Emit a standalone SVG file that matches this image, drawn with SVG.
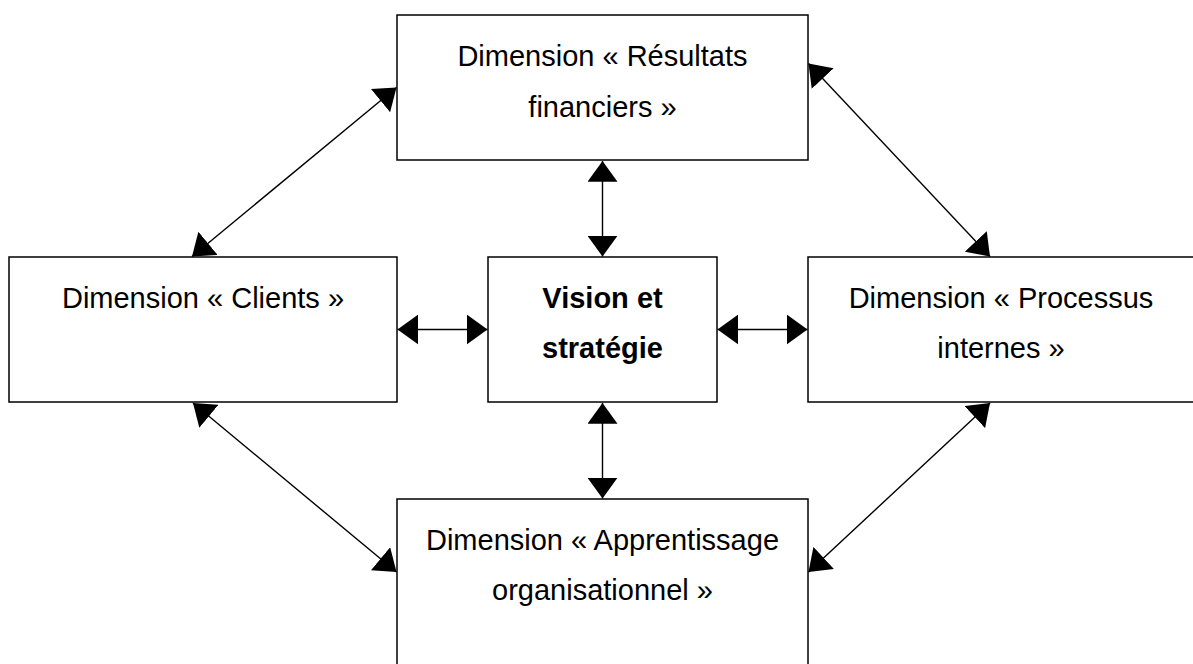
<svg xmlns="http://www.w3.org/2000/svg" width="1193" height="664" viewBox="0 0 1193 664">
<style>
.box{fill:#fff;stroke:#000;stroke-width:1.5}
.t{font-family:"Liberation Sans",Arial,sans-serif;font-size:29px;fill:#000;text-anchor:middle}
.b{font-weight:bold}
.c{stroke:#000;stroke-width:1.4;fill:none;marker-start:url(#ah);marker-end:url(#ah)}
</style>
<defs>
<marker id="ah" markerUnits="userSpaceOnUse" markerWidth="21" markerHeight="30" viewBox="0 0 20 29" refX="20" refY="14.5" orient="auto-start-reverse">
<path d="M0,0 L20,14.5 L0,29 Z" fill="#000"/>
</marker>
</defs>
<rect width="1193" height="664" fill="#fff"/>
<g id="n-financiers">
<rect class="box" x="397" y="15" width="411" height="145"/>
<text class="t" x="602.5" y="66">Dimension « Résultats</text>
<text class="t" x="602.5" y="117">financiers »</text>
</g>
<g id="n-clients">
<rect class="box" x="9" y="257" width="388" height="145"/>
<text class="t" x="203" y="308">Dimension « Clients »</text>
</g>
<g id="n-vision">
<rect class="box" x="488" y="257" width="229" height="145"/>
<text class="t b" x="602.5" y="308">Vision et</text>
<text class="t b" x="602.5" y="358">stratégie</text>
</g>
<g id="n-processus">
<rect class="box" x="808" y="257" width="390" height="145"/>
<text class="t" x="1001" y="308">Dimension « Processus</text>
<text class="t" x="1001" y="358">internes »</text>
</g>
<g id="n-apprentissage">
<rect class="box" x="397" y="499" width="411" height="190"/>
<text class="t" x="602.5" y="550">Dimension « Apprentissage</text>
<text class="t" x="602.5" y="600">organisationnel »</text>
</g>
<g id="connectors">
<line class="c" x1="602.5" y1="161" x2="602.5" y2="256.5"/>
<line class="c" x1="602.5" y1="403" x2="602.5" y2="498.5"/>
<line class="c" x1="397.5" y1="329.5" x2="487.5" y2="329.5"/>
<line class="c" x1="717.5" y1="329.5" x2="807.5" y2="329.5"/>
<line class="c" x1="192" y1="256.5" x2="396.5" y2="87.5"/>
<line class="c" x1="808.5" y1="63.5" x2="990" y2="256.5"/>
<line class="c" x1="193" y1="403" x2="396.5" y2="572"/>
<line class="c" x1="808.5" y1="572" x2="990" y2="403"/>
</g>
</svg>
